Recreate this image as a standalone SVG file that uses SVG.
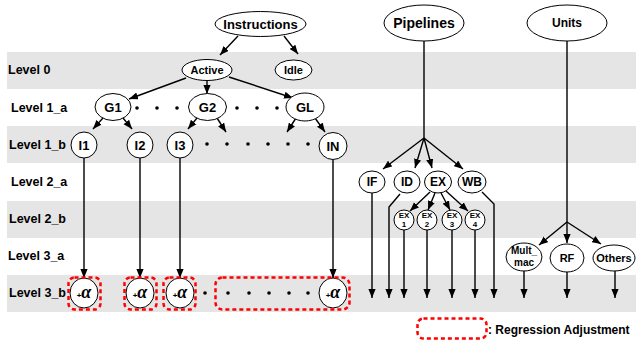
<svg xmlns="http://www.w3.org/2000/svg" width="636" height="341" viewBox="0 0 636 341">
<defs>
<marker id="ah" viewBox="0 0 10 8" markerWidth="9" markerHeight="7.5" refX="10" refY="4" orient="auto" markerUnits="userSpaceOnUse"><path d="M0,0 L10,4 L0,8 z" fill="#000"/></marker>
</defs>
<style>
.band{fill:#e5e5e5}
.lv{font-family:"Liberation Sans",Arial,sans-serif;font-weight:bold;font-size:12.5px;fill:#000}
.n{fill:#fff;stroke:#000;stroke-width:1}
.t{font-family:"Liberation Sans",Arial,sans-serif;font-weight:bold;fill:#000;text-anchor:middle}
.e{stroke:#000;stroke-width:1.4;fill:none}
.a{stroke:#000;stroke-width:1.4;fill:none;marker-end:url(#ah)}
.d{fill:#000}
.ra{fill:none;stroke:#f00;stroke-width:2.5;stroke-dasharray:4 3}
.al{font-family:"Liberation Serif","Times New Roman",serif;font-style:italic;font-weight:bold;font-size:18px}
.pl{font-family:"Liberation Sans",Arial,sans-serif;font-weight:bold;font-size:8px}
</style>
<g id="bands">
<rect class="band" x="7" y="52" width="629" height="37"/>
<rect class="band" x="7" y="126" width="629" height="37"/>
<rect class="band" x="7" y="201" width="629" height="37"/>
<rect class="band" x="7" y="275" width="629" height="37"/>
<text class="lv" x="8" y="74">Level 0</text>
<text class="lv" x="11" y="112">Level 1_a</text>
<text class="lv" x="9" y="149">Level 1_b</text>
<text class="lv" x="11" y="186">Level 2_a</text>
<text class="lv" x="9" y="223">Level 2_b</text>
<text class="lv" x="8" y="260">Level 3_a</text>
<text class="lv" x="9" y="297">Level 3_b</text>
</g>
<g id="connectors">
<path class="a" d="M238,36 L220,55"/>
<path class="a" d="M284,36 L298,54"/>
<path class="a" d="M186,78 L129,99"/>
<path class="a" d="M207,81 L207,94"/>
<path class="a" d="M229,77 L293,98"/>
<path class="a" d="M103,118 L93,129"/>
<path class="a" d="M123,118 L132,129"/>
<path class="a" d="M197,118 L188,129"/>
<path class="a" d="M217,118 L226,132"/>
<path class="a" d="M296,118 L287,132"/>
<path class="a" d="M315,118 L325,132"/>
<path class="a" d="M84,158 L84,278"/>
<path class="a" d="M140,158 L140,278"/>
<path class="a" d="M180,158 L180,278"/>
<path class="a" d="M333,160 L333,278"/>
<path class="e" d="M424,41 L424,138"/>
<path class="a" d="M424,138 L383,169"/>
<path class="a" d="M424,138 L415,168"/>
<path class="a" d="M424,138 L432,168"/>
<path class="a" d="M424,138 L463,169"/>
<path class="a" d="M430,192 L410,211"/>
<path class="a" d="M435,193 L428,210"/>
<path class="a" d="M441,193 L450,210"/>
<path class="a" d="M446,191 L468,211"/>
<path class="a" d="M372,193 L372,298"/>
<path class="a" d="M400,194 L389,207 L389,298"/>
<path class="a" d="M404,230 L404,298"/>
<path class="a" d="M427,230 L427,298"/>
<path class="a" d="M452,230 L452,298"/>
<path class="a" d="M475,230 L475,298"/>
<path class="a" d="M482,192 L494,204 L494,298"/>
<path class="e" d="M567,41 L567,222"/>
<path class="a" d="M567,222 L539,245"/>
<path class="a" d="M567,222 L567,243"/>
<path class="a" d="M567,222 L601,244"/>
<path class="a" d="M524,271 L524,298"/>
<path class="a" d="M567,272 L567,298"/>
<path class="a" d="M615,271 L615,298"/>
</g>
<g id="instructions"><ellipse class="n" cx="260.5" cy="24" rx="45.5" ry="12.5"/><text class="t" x="260.5" y="29" font-size="13">Instructions</text></g>
<g id="pipelines"><ellipse class="n" cx="424" cy="23" rx="40" ry="18"/><text class="t" x="424" y="28" font-size="14">Pipelines</text></g>
<g id="units"><ellipse class="n" cx="567" cy="23" rx="40" ry="18"/><text class="t" x="567" y="27" font-size="12">Units</text></g>
<g id="active"><ellipse class="n" cx="207" cy="70" rx="25" ry="10.5"/><text class="t" x="207" y="74" font-size="11">Active</text></g>
<g id="idle"><ellipse class="n" cx="293.5" cy="70" rx="18.5" ry="10"/><text class="t" x="293.5" y="74" font-size="11">Idle</text></g>
<g id="g1"><ellipse class="n" cx="113" cy="107" rx="18" ry="13.5"/><text class="t" x="113" y="112" font-size="13">G1</text></g>
<g id="g2"><ellipse class="n" cx="207.5" cy="107" rx="19" ry="13.5"/><text class="t" x="207.5" y="112" font-size="13">G2</text></g>
<g id="gl"><ellipse class="n" cx="305" cy="107" rx="19" ry="14"/><text class="t" x="305" y="112" font-size="13">GL</text></g>
<g id="dots1a">
<circle class="d" cx="137" cy="108" r="1.8"/><circle class="d" cx="157" cy="108" r="1.8"/><circle class="d" cx="177" cy="108" r="1.8"/>
<circle class="d" cx="237" cy="108" r="1.8"/><circle class="d" cx="257" cy="108" r="1.8"/><circle class="d" cx="277" cy="108" r="1.8"/>
</g>
<g id="i1"><ellipse class="n" cx="84" cy="145" rx="13" ry="13"/><text class="t" x="84" y="150" font-size="13">I1</text></g>
<g id="i2"><ellipse class="n" cx="140" cy="145" rx="13" ry="13"/><text class="t" x="140" y="150" font-size="13">I2</text></g>
<g id="i3"><ellipse class="n" cx="180" cy="145" rx="13" ry="13"/><text class="t" x="180" y="150" font-size="13">I3</text></g>
<g id="in"><ellipse class="n" cx="333" cy="146" rx="14" ry="13.5"/><text class="t" x="333" y="151" font-size="13">IN</text></g>
<g id="dots1b">
<circle class="d" cx="207" cy="144" r="1.8"/><circle class="d" cx="227" cy="144" r="1.8"/><circle class="d" cx="248" cy="144" r="1.8"/>
<circle class="d" cx="268" cy="144" r="1.8"/><circle class="d" cx="288" cy="144" r="1.8"/><circle class="d" cx="308" cy="144" r="1.8"/>
</g>
<g id="if"><ellipse class="n" cx="372" cy="182" rx="13" ry="11"/><text class="t" x="372" y="186" font-size="12">IF</text></g>
<g id="id"><ellipse class="n" cx="407" cy="182" rx="13" ry="11"/><text class="t" x="407" y="186" font-size="12">ID</text></g>
<g id="ex"><ellipse class="n" cx="438" cy="182" rx="13.5" ry="11"/><text class="t" x="438" y="186" font-size="12">EX</text></g>
<g id="wb"><ellipse class="n" cx="472" cy="182" rx="14" ry="11"/><text class="t" x="472" y="186" font-size="12">WB</text></g>
<g id="ex1"><ellipse class="n" cx="404" cy="220" rx="10" ry="10"/><text class="t" x="404" y="218" font-size="8">EX</text><text class="t" x="404" y="227" font-size="8">1</text></g>
<g id="ex2"><ellipse class="n" cx="427" cy="220" rx="10" ry="10"/><text class="t" x="427" y="218" font-size="8">EX</text><text class="t" x="427" y="227" font-size="8">2</text></g>
<g id="ex3"><ellipse class="n" cx="452" cy="220" rx="10" ry="10"/><text class="t" x="452" y="218" font-size="8">EX</text><text class="t" x="452" y="227" font-size="8">3</text></g>
<g id="ex4"><ellipse class="n" cx="475" cy="220" rx="10" ry="10"/><text class="t" x="475" y="218" font-size="8">EX</text><text class="t" x="475" y="227" font-size="8">4</text></g>
<g id="multmac"><ellipse class="n" cx="524" cy="257" rx="18" ry="14"/><text class="t" x="524" y="254" font-size="10">Mult_</text><text class="t" x="524" y="266" font-size="10">mac</text></g>
<g id="rf"><ellipse class="n" cx="567" cy="258" rx="17" ry="14"/><text class="t" x="567" y="262" font-size="11">RF</text></g>
<g id="others"><ellipse class="n" cx="614" cy="258" rx="21" ry="13"/><text class="t" x="614" y="262" font-size="11">Others</text></g>
<g id="a1"><ellipse class="n" cx="84" cy="293" rx="14" ry="15"/><text x="84" y="298" text-anchor="middle"><tspan class="pl">+</tspan><tspan class="al">α</tspan></text></g>
<g id="a2"><ellipse class="n" cx="140" cy="293" rx="14" ry="15"/><text x="140" y="298" text-anchor="middle"><tspan class="pl">+</tspan><tspan class="al">α</tspan></text></g>
<g id="a3"><ellipse class="n" cx="180" cy="293" rx="14" ry="15"/><text x="180" y="298" text-anchor="middle"><tspan class="pl">+</tspan><tspan class="al">α</tspan></text></g>
<g id="an"><ellipse class="n" cx="333" cy="293" rx="14" ry="15"/><text x="333" y="298" text-anchor="middle"><tspan class="pl">+</tspan><tspan class="al">α</tspan></text></g>
<g id="dots3b">
<circle class="d" cx="205" cy="293" r="1.8"/><circle class="d" cx="228" cy="293" r="1.8"/><circle class="d" cx="249" cy="293" r="1.8"/>
<circle class="d" cx="269" cy="293" r="1.8"/><circle class="d" cx="289" cy="293" r="1.8"/><circle class="d" cx="308" cy="293" r="1.8"/>
</g>
<g id="regression">
<rect class="ra" x="68.5" y="277.5" width="32" height="32" rx="6"/>
<rect class="ra" x="124.5" y="277.5" width="32" height="32" rx="6"/>
<rect class="ra" x="163.5" y="277.5" width="32" height="32" rx="6"/>
<rect class="ra" x="215.5" y="277.5" width="134" height="32" rx="7"/>
</g>
<g id="legend">
<rect class="ra" x="417.5" y="318.5" width="69" height="20" rx="6"/>
<text class="lv" x="488" y="334" style="font-size:12px">: Regression Adjustment</text>
</g>
</svg>
